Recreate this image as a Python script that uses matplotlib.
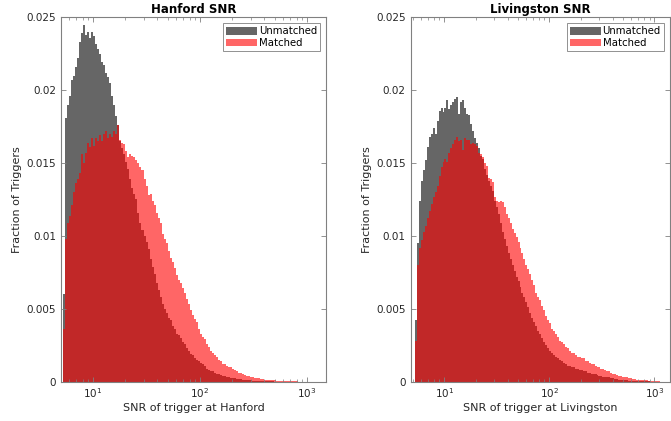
import numpy as np
import matplotlib
matplotlib.use("Agg")
import matplotlib.pyplot as plt
from matplotlib.patches import Patch

# log10 bin edges of the SNR histograms
log_start = 0.72
log_step = 0.0188
n_bins = 125

hanford_unmatched = [
    0.0060, 0.0181, 0.0190, 0.0196, 0.0207, 0.0210, 0.0216, 0.0222, 0.0233, 0.0239,
    0.0245, 0.0238, 0.0240, 0.0236, 0.0240, 0.0237, 0.0232, 0.0228, 0.0225, 0.0219,
    0.0217, 0.0212, 0.0209, 0.0205, 0.0196, 0.0190, 0.0182, 0.0176, 0.0165, 0.0160,
    0.0156, 0.0151, 0.0146, 0.0139, 0.0133, 0.0129, 0.0125, 0.0116, 0.0109, 0.0104,
    0.0100, 0.0096, 0.0091, 0.0084, 0.0079, 0.0074, 0.0068, 0.0063, 0.0058, 0.0053,
    0.0050, 0.0047, 0.0044, 0.0042, 0.0038, 0.0036, 0.0033, 0.0032, 0.0030, 0.0027,
    0.0026, 0.0023, 0.0021, 0.0019, 0.0018, 0.0016, 0.0015, 0.0014, 0.0013, 0.0012,
    0.0011, 0.0009, 0.0008, 0.00076, 0.0007, 0.0006, 0.00055, 0.0005, 0.00045, 0.0004,
    0.00036, 0.00033, 0.0003, 0.00028, 0.00025, 0.00022, 0.0002, 0.00018, 0.00016, 0.00015,
    0.00013, 0.00012, 0.0001, 0.00009, 0.00008, 0.00007, 0.00006, 0.00005, 0.00004, 0.00004,
    0.00003, 0.00003, 0.00002, 0.00002, 0.00002, 0.00001, 0.00001, 0.00001, 0.00001, 0.0,
    0.00001, 0.0, 0.0, 0.0, 0.0, 0.0, 0.0, 0.0, 0.0, 0.0,
    0.0, 0.0, 0.0, 0.0, 0.0,
]

hanford_matched = [
    0.0036, 0.0098, 0.0109, 0.0114, 0.0121, 0.0130, 0.0136, 0.0139, 0.0143, 0.0156,
    0.0150, 0.0157, 0.0164, 0.0161, 0.0167, 0.0162, 0.0167, 0.0165, 0.0169, 0.0165,
    0.0170, 0.0172, 0.0167, 0.0170, 0.0168, 0.0172, 0.0170, 0.0176, 0.0166, 0.0164,
    0.0163, 0.0158, 0.0154, 0.0156, 0.0155, 0.0154, 0.0152, 0.0150, 0.0147, 0.0145,
    0.0139, 0.0134, 0.0128, 0.0129, 0.0124, 0.0121, 0.0116, 0.0112, 0.0109, 0.0101,
    0.0098, 0.0095, 0.0090, 0.0085, 0.0082, 0.0078, 0.0073, 0.0070, 0.0068, 0.0064,
    0.0061, 0.0057, 0.0053, 0.0049, 0.0046, 0.0043, 0.0041, 0.0036, 0.0033, 0.0031,
    0.0029, 0.0026, 0.0024, 0.0021, 0.0020, 0.0018, 0.0017, 0.0015, 0.0014, 0.0012,
    0.0012, 0.0011, 0.0010, 0.0010, 0.0009, 0.0008, 0.00076, 0.0006, 0.0006, 0.0005,
    0.00045, 0.0004, 0.00036, 0.00034, 0.0003, 0.00027, 0.00024, 0.00022, 0.0002, 0.00018,
    0.00015, 0.00014, 0.00012, 0.00012, 0.0001, 0.00009, 0.00008, 0.00007, 0.00006, 0.00005,
    0.00005, 0.00004, 0.00003, 0.00003, 0.00002, 0.00002, 0.00002, 0.00001, 0.00001, 0.00001,
    0.0, 0.00001, 0.0, 0.0, 0.0,
]

livingston_unmatched = [
    0.0042, 0.0095, 0.0124, 0.0138, 0.0145, 0.0152, 0.0161, 0.0168, 0.0170, 0.0174,
    0.0170, 0.0179, 0.0186, 0.0188, 0.0185, 0.0188, 0.0193, 0.0187, 0.0190, 0.0192,
    0.0194, 0.0195, 0.0184, 0.0192, 0.0193, 0.0188, 0.0184, 0.0183, 0.0177, 0.0172,
    0.0167, 0.0164, 0.0160, 0.0155, 0.0153, 0.0146, 0.0142, 0.0138, 0.0134, 0.0131,
    0.0124, 0.0120, 0.0115, 0.0109, 0.0103, 0.0098, 0.0093, 0.0088, 0.0084, 0.0080,
    0.0076, 0.0072, 0.0069, 0.0065, 0.0061, 0.0058, 0.0055, 0.0051, 0.0047, 0.0044,
    0.0041, 0.0038, 0.0035, 0.0033, 0.0030, 0.0027, 0.0025, 0.0023, 0.0021, 0.0020,
    0.0018, 0.0017, 0.0016, 0.0015, 0.0014, 0.0013, 0.0012, 0.0011, 0.0011, 0.0010,
    0.0010, 0.0009, 0.0009, 0.0008, 0.0008, 0.0007, 0.0007, 0.0006, 0.0006, 0.00055,
    0.0005, 0.0005, 0.00045, 0.0004, 0.0004, 0.00035, 0.00033, 0.0003, 0.0003, 0.00027,
    0.00024, 0.0002, 0.00018, 0.00015, 0.00013, 0.00012, 0.0001, 0.00009, 0.00008, 0.00007,
    0.00006, 0.00005, 0.00004, 0.00004, 0.00003, 0.00003, 0.00002, 0.00002, 0.00002, 0.00001,
    0.00001, 0.00001, 0.0, 0.0, 0.0,
]

livingston_matched = [
    0.0028, 0.0080, 0.0092, 0.0097, 0.0103, 0.0107, 0.0112, 0.0117, 0.0122, 0.0127,
    0.0130, 0.0134, 0.0141, 0.0147, 0.0151, 0.0153, 0.0151, 0.0157, 0.0160, 0.0163,
    0.0166, 0.0168, 0.0165, 0.0166, 0.0159, 0.0167, 0.0166, 0.0166, 0.0163, 0.0164,
    0.0163, 0.0162, 0.0157, 0.0156, 0.0154, 0.0150, 0.0148, 0.0140, 0.0139, 0.0137,
    0.0127, 0.0124, 0.0123, 0.0124, 0.0123, 0.0120, 0.0115, 0.0112, 0.0109, 0.0105,
    0.0102, 0.0099, 0.0096, 0.0092, 0.0088, 0.0084, 0.0080, 0.0077, 0.0074, 0.0070,
    0.0066, 0.0061, 0.0058, 0.0056, 0.0052, 0.0049, 0.0045, 0.0042, 0.0040, 0.0036,
    0.0035, 0.0033, 0.0031, 0.0028, 0.0027, 0.0026, 0.0024, 0.0023, 0.0021, 0.0020,
    0.0020, 0.0018, 0.0017, 0.0017, 0.0016, 0.0016, 0.0014, 0.0014, 0.0013, 0.0012,
    0.0012, 0.0011, 0.0010, 0.0010, 0.0009, 0.00085, 0.0008, 0.00076, 0.0007, 0.0006,
    0.00055, 0.0005, 0.00045, 0.0004, 0.0004, 0.00035, 0.0003, 0.0003, 0.00025, 0.00022,
    0.0002, 0.00017, 0.00015, 0.00013, 0.00012, 0.0001, 0.0001, 0.00009, 0.00008, 0.00006,
    0.00005, 0.00004, 0.00003, 0.00002, 0.00001,
]

titles = ["Hanford SNR", "Livingston SNR"]
xlabels = ["SNR of trigger at Hanford", "SNR of trigger at Livingston"]
ylabel = "Fraction of Triggers"
legend_labels = ["Unmatched", "Matched"]
yticks = [0, 0.005, 0.01, 0.015, 0.02, 0.025]
ytick_labels = ["0", "0.005", "0.01", "0.015", "0.02", "0.025"]

edges = 10 ** (log_start + log_step * np.arange(n_bins + 1))

W, H = 671, 421
fig = plt.figure(figsize=(W / 100, H / 100), dpi=100)
plt.rcParams['font.family'] = ['DejaVu Sans']

axes_px = [(61, 326, (5.02, 1507)), (410.7, 670.0, (4.79, 1410))]
top_px, bot_px = 17.3, 381.7

gray_col = '#666666'
red_col = (1.0, 0.0, 0.0, 0.6)
spine_col = '#808080'
text_col = '#262626'

data = [(hanford_unmatched, hanford_matched), (livingston_unmatched, livingston_matched)]

for k, (l, r, xl) in enumerate(axes_px):
    ax = fig.add_axes([l / W, (H - bot_px) / H, (r - l) / W, (bot_px - top_px) / H])
    un, ma = data[k]
    ax.stairs(un, edges, fill=True, color=gray_col, linewidth=0)
    ax.stairs(ma, edges, fill=True, color=red_col, linewidth=0)
    ax.set_xscale('log')
    ax.set_xlim(*xl)
    ax.set_ylim(0, 0.025)
    ax.set_yticks(yticks)
    ax.set_yticklabels(ytick_labels)
    ax.set_xticks([10, 100, 1000])
    ax.tick_params(which='both', direction='in', top=True, right=True,
                   colors=spine_col, labelcolor=text_col, labelsize=7.5)
    ax.tick_params(which='major', length=3.5, width=0.6)
    ax.tick_params(which='minor', length=2, width=0.5)
    for s in ax.spines.values():
        s.set_color(spine_col)
        s.set_linewidth(0.8)
    ax.set_title(titles[k], fontsize=8.5, fontweight='bold', color='black', pad=3)
    ax.set_xlabel(xlabels[k], fontsize=8, color=text_col, labelpad=2)
    ax.set_ylabel(ylabel, fontsize=8, color=text_col, labelpad=3)
    handles = [Patch(facecolor=gray_col, edgecolor='none'),
               Patch(facecolor=(1.0, 0.4, 0.4), edgecolor='none')]
    leg = ax.legend(handles, legend_labels, loc='upper right', fontsize=7.3,
                    fancybox=False, framealpha=1, edgecolor=spine_col,
                    handlelength=3.0, handleheight=0.8, handletextpad=0.2,
                    borderpad=0.3, labelspacing=0.15, borderaxespad=0.6)
    leg.get_frame().set_linewidth(0.6)

fig.savefig('out.png', dpi=100)
